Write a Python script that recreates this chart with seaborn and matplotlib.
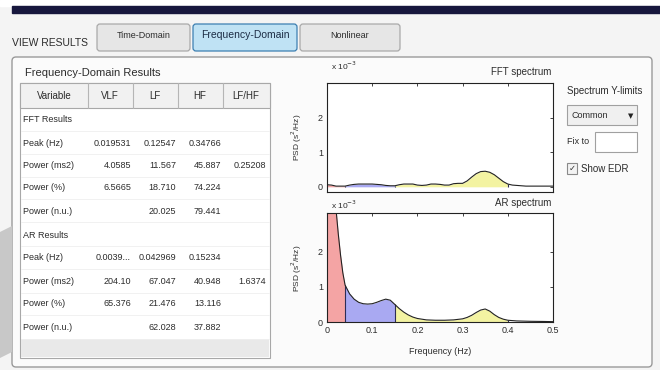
import numpy as np
import matplotlib
matplotlib.use('Agg')
import matplotlib.pyplot as plt
import matplotlib.patches as mpatches
import seaborn as sns

# spectra (PSD in units of 10^-3 s^2/Hz)
fft_freq = [0.00, 0.01, 0.02, 0.03, 0.04, 0.05, 0.06, 0.07, 0.08, 0.09, 0.10, 0.11, 0.12, 0.13,
            0.14, 0.15, 0.16, 0.17, 0.18, 0.19, 0.20, 0.21, 0.22, 0.23, 0.24, 0.25, 0.26, 0.27,
            0.28, 0.29, 0.30, 0.31, 0.32, 0.33, 0.34, 0.35, 0.36, 0.37, 0.38, 0.39, 0.40, 0.41,
            0.42, 0.43, 0.44, 0.45, 0.46, 0.47, 0.48, 0.49, 0.50]
fft_psd = [0.06, 0.05, 0.02, 0.02, 0.02, 0.05, 0.07, 0.08, 0.08, 0.08, 0.08, 0.07, 0.06, 0.04,
           0.03, 0.03, 0.06, 0.08, 0.08, 0.08, 0.05, 0.04, 0.05, 0.08, 0.08, 0.07, 0.05, 0.05,
           0.09, 0.10, 0.10, 0.17, 0.28, 0.38, 0.44, 0.45, 0.42, 0.35, 0.25, 0.15, 0.08, 0.05,
           0.04, 0.03, 0.02, 0.02, 0.02, 0.02, 0.02, 0.02, 0.02]

ar_freq = [0.000, 0.005, 0.010, 0.015, 0.020, 0.025, 0.030, 0.035, 0.040, 0.050, 0.060, 0.070,
           0.080, 0.090, 0.100, 0.110, 0.120, 0.130, 0.140, 0.150, 0.160, 0.170, 0.180, 0.190,
           0.200, 0.220, 0.240, 0.260, 0.280, 0.300, 0.310, 0.320, 0.330, 0.340, 0.350, 0.360,
           0.370, 0.380, 0.390, 0.400, 0.420, 0.450, 0.480, 0.500]
ar_psd = [9.0, 7.0, 5.2, 4.0, 3.2, 2.5, 1.9, 1.4, 1.05, 0.80, 0.65, 0.56,
          0.52, 0.51, 0.52, 0.56, 0.61, 0.65, 0.62, 0.50, 0.38, 0.28, 0.20, 0.14,
          0.10, 0.06, 0.05, 0.05, 0.06, 0.09, 0.13, 0.19, 0.27, 0.34, 0.37, 0.31,
          0.21, 0.13, 0.08, 0.05, 0.03, 0.02, 0.015, 0.01]

band_names = ['VLF', 'LF', 'HF']
band_edges = [(0.0, 0.04), (0.04, 0.15), (0.15, 0.40)]
band_colors = ['#f4a4a4', '#a9a9f2', '#f3f3a2']

# results table
table_cols = ['Variable', 'VLF', 'LF', 'HF', 'LF/HF']
row_labels = ['FFT Results', 'Peak (Hz)', 'Power (ms2)', 'Power (%)', 'Power (n.u.)',
              'AR Results', 'Peak (Hz)', 'Power (ms2)', 'Power (%)', 'Power (n.u.)']
row_values = [
    ['', '', '', ''],
    ['0.019531', '0.12547', '0.34766', ''],
    ['4.0585', '11.567', '45.887', '0.25208'],
    ['6.5665', '18.710', '74.224', ''],
    ['', '20.025', '79.441', ''],
    ['', '', '', ''],
    ['0.0039...', '0.042969', '0.15234', ''],
    ['204.10', '67.047', '40.948', '1.6374'],
    ['65.376', '21.476', '13.116', ''],
    ['', '62.028', '37.882', ''],
]
tab_names = ['Time-Domain', 'Frequency-Domain', 'Nonlinear']

sns.set_style('white')
plt.rcParams['font.family'] = ['Liberation Sans Narrow', 'Liberation Sans', 'DejaVu Sans']
txt = '#2c2c2c'
fs = 6.5

W, H = 660, 370
fig = plt.figure(figsize=(6.6, 3.7), dpi=100, facecolor='#f4f4f4')

# background "GUI" layer in pixel coordinates
bg = fig.add_axes([0, 0, 1, 1])
bg.set_xlim(0, W)
bg.set_ylim(H, 0)
bg.axis('off')

bg.add_patch(mpatches.Rectangle((0, 0), W, 6, color='white'))
bg.add_patch(mpatches.Rectangle((12, 6), W - 12, 7, color='#17173d'))
bg.text(12, 43, 'VIEW RESULTS', fontsize=7.5, color=txt, va='center')

tab_x = [97, 193, 300]
tab_w = [93, 104, 100]
for name, x0, w in zip(tab_names, tab_x, tab_w):
    active = name == 'Frequency-Domain'
    bg.add_patch(mpatches.FancyBboxPatch((x0, 24), w, 27, boxstyle='round,pad=0,rounding_size=3',
                                         fc='#bfe2f4' if active else '#e6e6e6',
                                         ec='#3c7fb1' if active else '#a9a9a9', lw=0.9))
    bg.text(x0 + w / 2, 35, name, fontsize=7.5 if active else 6.5,
            color='#1c2c44' if active else txt, ha='center', va='center')

# main panel
bg.add_patch(mpatches.FancyBboxPatch((12, 57), 640, 310, boxstyle='round,pad=0,rounding_size=4',
                                     fc='#fbfbfb', ec='#9a9a9a', lw=1))
bg.add_patch(mpatches.Polygon([(0, 232), (12, 226), (12, 352), (0, 358)], color='#c8c8c8', lw=0))
bg.text(25, 73, 'Frequency-Domain Results', fontsize=8, color=txt, va='center')

# table
tx0, tx1, ty0, ty1 = 20, 270, 83, 358
bg.add_patch(mpatches.Rectangle((tx0, ty0), tx1 - tx0, ty1 - ty0, fc='white', ec='#a8a8a8', lw=0.8))
bg.add_patch(mpatches.Rectangle((tx0, ty0), tx1 - tx0, 25, fc='#f1f1f1', ec='#a8a8a8', lw=0.8))
bg.add_patch(mpatches.Rectangle((tx0 + 1, 339), tx1 - tx0 - 2, 18, fc='#e9e9e9', lw=0))
col_seps = [88, 133, 178, 223]
for xs in col_seps:
    bg.plot([xs, xs], [ty0, ty0 + 25], color='#b5b5b5', lw=0.8)
head_x = [54, 110, 155, 200, 246]
for name, hx in zip(table_cols, head_x):
    bg.text(hx, 96, name, fontsize=7, color=txt, ha='center', va='center')
row_y = [120, 143, 166, 188, 211, 235, 258, 282, 304, 328]
val_x = [131, 176, 221, 266]
for label, vals, ry in zip(row_labels, row_values, row_y):
    bg.text(23, ry, label, fontsize=fs, color=txt, va='center')
    bg.plot([tx0 + 1, tx1 - 1], [ry + 11, ry + 11], color='#efefef', lw=0.6)
    for v, vx in zip(vals, val_x):
        bg.text(vx, ry, v, fontsize=fs, color=txt, va='center', ha='right')

# right-hand controls
bg.text(567, 91, 'Spectrum Y-limits', fontsize=7, color=txt, va='center')
bg.add_patch(mpatches.Rectangle((567, 105), 70, 20, fc='#f0f0f0', ec='#a0a0a0', lw=0.8))
bg.text(572, 115, 'Common', fontsize=fs, color=txt, va='center')
bg.text(631, 116, '\u25bc', fontsize=5, color='#222', va='center', ha='center', family='DejaVu Sans')
bg.text(567, 142, 'Fix to', fontsize=fs, color=txt, va='center')
bg.add_patch(mpatches.Rectangle((595, 132), 42, 20, fc='white', ec='#a0a0a0', lw=0.8))
bg.add_patch(mpatches.Rectangle((567, 163), 10, 11, fc='#f3f3f3', ec='#8a8a8a', lw=0.8))
bg.text(572, 168.5, '\u2713', fontsize=6, color='#333', ha='center', va='center', family='DejaVu Sans')
bg.text(581, 169, 'Show EDR', fontsize=7, color=txt, va='center')

# spectra axes
def px_axes(x0, y0, x1, y1):
    return fig.add_axes([x0 / W, 1 - y1 / H, (x1 - x0) / W, (y1 - y0) / H])

ax_fft = px_axes(327, 83, 553, 192)
ax_ar = px_axes(327, 213, 553, 322)

for ax, freq, psd, ylim in [(ax_fft, fft_freq, fft_psd, (-0.15, 3.0)),
                            (ax_ar, ar_freq, ar_psd, (0, 3.1))]:
    f = np.array(freq)
    p = np.array(psd)
    for (lo, hi), c in zip(band_edges, band_colors):
        m = (f >= lo) & (f <= hi)
        ax.fill_between(f[m], 0, p[m], color=c, lw=0)
    for lo, hi in band_edges[1:]:
        ax.vlines(lo, 0, np.interp(lo, f, p), color='#2d2d55', lw=0.8)
    ax.vlines(band_edges[-1][1], 0, np.interp(band_edges[-1][1], f, p), color='#2d2d55', lw=0.8)
    sns.lineplot(x=f, y=p, ax=ax, color='#222222', lw=0.8)
    ax.set_xlim(0, 0.5)
    ax.set_ylim(*ylim)
    ax.set_yticks([0, 1, 2])
    ax.set_xticks([0, 0.1, 0.2, 0.3, 0.4, 0.5])
    ax.set_xticklabels(['0', '0.1', '0.2', '0.3', '0.4', '0.5'])
    ax.tick_params(direction='in', length=2.5, width=0.6, top=True, right=True,
                   labelsize=6.5, pad=3, colors='#222')
    ax.tick_params(labelcolor=txt)
    ax.set_facecolor('white')
    for s in ax.spines.values():
        s.set_color('#222')
        s.set_linewidth(0.8)
    ax.set_xlabel('')
    ax.set_ylabel('')

ax_fft.tick_params(labelbottom=False)

bg.text(331, 66, 'x 10$^{-3}$', fontsize=6, color=txt, va='center')
bg.text(331, 205, 'x 10$^{-3}$', fontsize=6, color=txt, va='center')
bg.text(551, 72, 'FFT spectrum', fontsize=7, color=txt, ha='right', va='center')
bg.text(551, 203, 'AR spectrum', fontsize=7, color=txt, ha='right', va='center')
bg.text(297, 137, 'PSD (s$^2$/Hz)', fontsize=6, color=txt, rotation=90, ha='center', va='center')
bg.text(297, 268, 'PSD (s$^2$/Hz)', fontsize=6, color=txt, rotation=90, ha='center', va='center')
bg.text(440, 351, 'Frequency (Hz)', fontsize=6.5, color=txt, ha='center', va='center')

fig.savefig('out.png', dpi=100, facecolor=fig.get_facecolor())
